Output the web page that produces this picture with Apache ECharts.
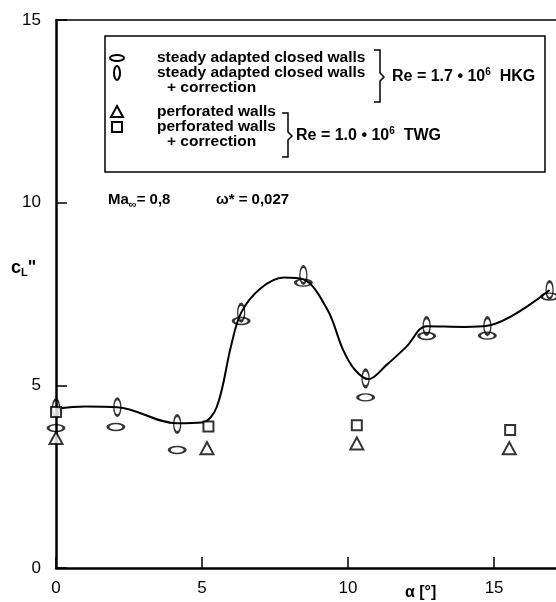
<!DOCTYPE html>
<html>
<head>
<meta charset="utf-8">
<script src="https://cdn.jsdelivr.net/npm/echarts@6/dist/echarts.min.js"></script>
<style>
  html, body { margin: 0; padding: 0; background: #fff; }
  #chart { width: 556px; height: 602px; }
</style>
</head>
<body>
<div id="chart"></div>
<script>
// steady adapted closed walls (horizontal ellipse)
const closedWalls = [[0, 3.83], [2.05, 3.86], [4.15, 3.23], [6.34, 6.76], [8.47, 7.81], [10.6, 4.67], [12.69, 6.35], [14.77, 6.36], [16.9, 7.43]];
// steady adapted closed walls + correction (vertical ellipse)
const closedCorr = [[0, 4.38], [2.1, 4.4], [4.15, 3.94], [6.34, 6.99], [8.47, 8.02], [10.6, 5.19], [12.69, 6.62], [14.77, 6.62], [16.9, 7.61]];
// perforated walls (triangle)
const perforated = [[0, 3.56], [5.17, 3.28], [10.3, 3.41], [15.52, 3.28]];
// perforated walls + correction (square)
const perfCorr = [[0, 4.27], [5.22, 3.87], [10.3, 3.91], [15.55, 3.78]];
// faired curve through the corrected closed-wall points
const curve = [[0, 4.36], [1, 4.42], [2.1, 4.4], [4.15, 3.96], [5.0, 3.98], [5.5, 4.4], [6.0, 6.1], [6.34, 6.99], [7.0, 7.65], [7.8, 7.95], [8.47, 7.9], [9.3, 7.06], [9.83, 5.97], [10.24, 5.42], [10.7, 5.17], [11.32, 5.56], [12.0, 6.06], [12.69, 6.62], [14.0, 6.6], [14.77, 6.63], [16.9, 7.61]];

const xTicks = [0, 5, 10, 15];
const yTicks = [0, 5, 10, 15];

const ellipseH = 'path://M0,5 A10,5 0 1,0 20,5 A10,5 0 1,0 0,5 Z';
const ellipseV = 'path://M5,0 A5,10 0 1,0 5,20 A5,10 0 1,0 5,0 Z';
const tri = 'path://M6,0 L12,11 L0,11 Z';

const chart = echarts.init(document.getElementById('chart'));
const font = 'Liberation Sans, Arial, sans-serif';
const black = { fill: 'none', stroke: '#000', lineWidth: 2 };

function txt(x, y, str, size, rich) {
    return { type: 'text', x: x, y: y, z: 11, style: {
        text: str, font: 'bold ' + size + 'px ' + font, fill: '#000', verticalAlign: 'middle', rich: rich || {} } };
}
const sup = { s: { fontSize: 10, fontWeight: 'bold', fontFamily: font, verticalAlign: 'top', padding: [0, 0, 9, 0] } };
const sub = { s: { fontSize: 11, fontWeight: 'bold', fontFamily: font, padding: [9, 0, 0, 0] } };

chart.setOption({
    animation: false,
    grid: { left: 56, right: 0, top: 20, bottom: 34 },
    xAxis: [{
        type: 'value', min: 0, max: 17.12, interval: 5,
        axisLine: { lineStyle: { color: '#000', width: 2.5 } },
        axisTick: { inside: true, length: 11, lineStyle: { color: '#000', width: 1.5 } },
        axisLabel: { margin: 12, color: '#000', fontSize: 17, fontFamily: font, showMaxLabel: false,
            formatter: v => xTicks.indexOf(v) >= 0 ? String(v) : '' },
        splitLine: { show: false }
    }, {
        type: 'value', position: 'top', min: 0, max: 17.12,
        axisLine: { show: true, onZero: false, lineStyle: { color: '#000', width: 1.5 } },
        axisTick: { show: false }, axisLabel: { show: false }, splitLine: { show: false }
    }],
    yAxis: {
        type: 'value', min: 0, max: 15, interval: 5,
        axisLine: { show: true, lineStyle: { color: '#000', width: 2.5 } },
        axisTick: { show: true, inside: true, length: 11, lineStyle: { color: '#000', width: 1.5 } },
        axisLabel: { margin: 15, color: '#000', fontSize: 17, fontFamily: font,
            formatter: v => yTicks.indexOf(v) >= 0 ? String(v) : '' },
        splitLine: { show: false }
    },
    series: [{
        type: 'line', data: curve, smooth: 0.35, showSymbol: false,
        lineStyle: { color: '#000', width: 2 }, z: 2
    }, {
        type: 'scatter', data: closedWalls, symbol: ellipseH, symbolSize: [16, 7],
        itemStyle: { color: 'rgba(255,255,255,0)', borderColor: '#000', borderWidth: 2 }, z: 3
    }, {
        type: 'scatter', data: closedCorr, symbol: ellipseV, symbolSize: [7, 17],
        itemStyle: { color: 'rgba(255,255,255,0)', borderColor: '#000', borderWidth: 2 }, z: 3
    }, {
        type: 'scatter', data: perforated, symbol: tri, symbolSize: [13, 12],
        itemStyle: { color: '#fff', borderColor: '#000', borderWidth: 2 }, z: 3
    }, {
        type: 'scatter', data: perfCorr, symbol: 'rect', symbolSize: 10,
        itemStyle: { color: '#fff', borderColor: '#000', borderWidth: 2 }, z: 3
    }],
    graphic: [
        // legend box
        { type: 'rect', shape: { x: 105, y: 36, width: 440, height: 136 }, style: { fill: '#fff', stroke: '#000', lineWidth: 1.5 }, z: 10 },
        { type: 'ellipse', shape: { cx: 117, cy: 58, rx: 7, ry: 3 }, style: black, z: 11 },
        { type: 'ellipse', shape: { cx: 117, cy: 73, rx: 3, ry: 7 }, style: black, z: 11 },
        { type: 'polygon', shape: { points: [[117, 106], [123, 117], [111, 117]] }, style: black, z: 11 },
        { type: 'rect', shape: { x: 112, y: 122, width: 10, height: 10 }, style: black, z: 11 },
        txt(157, 58, 'steady adapted closed walls', 15.5),
        txt(157, 73, 'steady adapted closed walls', 15.5),
        txt(167, 88, '+ correction', 15.5),
        txt(157, 112, 'perforated walls', 15.5),
        txt(157, 127, 'perforated walls', 15.5),
        txt(167, 142, '+ correction', 15.5),
        { type: 'polyline', shape: { points: [[374, 50], [380, 50], [380, 73], [384, 77], [380, 81], [380, 102], [374, 102]] }, style: { fill: 'none', stroke: '#000', lineWidth: 1.5 }, z: 11 },
        { type: 'polyline', shape: { points: [[282, 113], [288, 113], [288, 132], [292, 136], [288, 140], [288, 157], [282, 157]] }, style: { fill: 'none', stroke: '#000', lineWidth: 1.5 }, z: 11 },
        txt(392, 77, 'Re = 1.7 • 10{s|6}  HKG', 16, sup),
        txt(296, 136, 'Re = 1.0 • 10{s|6}  TWG', 16, sup),
        // flow conditions
        txt(108, 200, 'Ma{s|∞}= 0,8', 15, sub),
        txt(216, 200, 'ω* = 0,027', 15),
        // axis names
        txt(11, 268, 'c{s|L}"', 18, sub),
        txt(405, 593, 'α [°]', 16)
    ]
});
</script>
</body>
</html>
